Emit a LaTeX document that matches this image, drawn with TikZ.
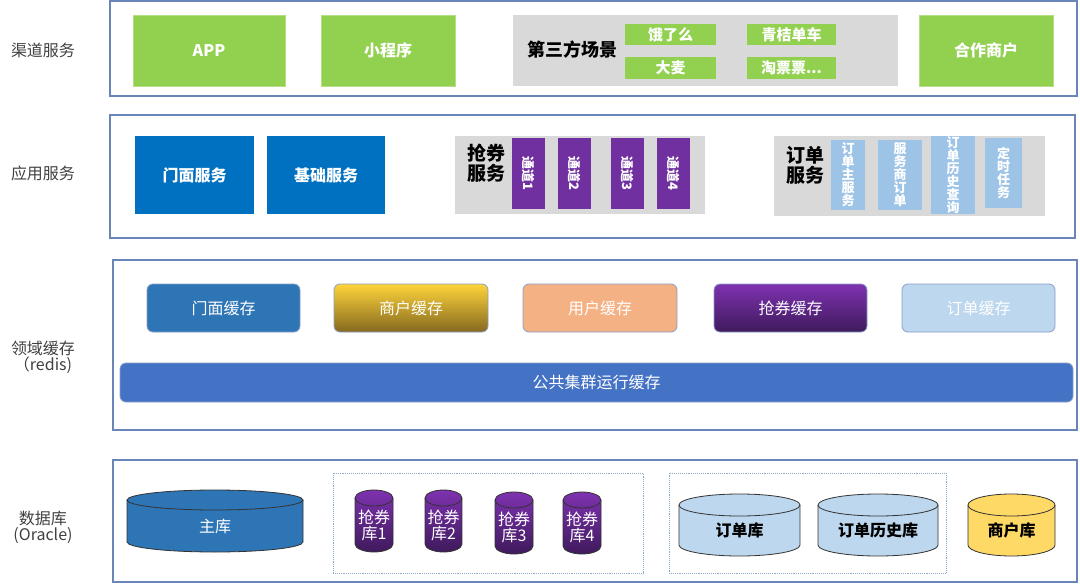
\documentclass[tikz,border=0pt]{standalone}
\usepackage{fontspec}
\setmainfont{Noto Sans CJK SC}
\usetikzlibrary{calc}
\definecolor{cgreen}{HTML}{92D050}
\definecolor{cgray}{HTML}{D9D9D9}
\definecolor{cblue}{HTML}{0070C0}
\definecolor{cpurple}{HTML}{7030A0}
\definecolor{clblue}{HTML}{9DC3E6}
\definecolor{ccache}{HTML}{2E75B6}
\definecolor{cpeach}{HTML}{F4B183}
\definecolor{corder}{HTML}{BDD7EE}
\definecolor{cpub}{HTML}{4472C4}
\definecolor{cyel}{HTML}{FFD966}
\definecolor{cframe}{HTML}{6A86B8}
\definecolor{cdot}{HTML}{8EA9C9}
\definecolor{clabel}{HTML}{404040}
\definecolor{cgold}{HTML}{FFD43B}
\definecolor{cbrown}{HTML}{85691F}
\definecolor{cpurtop}{HTML}{7E32B0}
\definecolor{cpurbot}{HTML}{3F1A5C}
\newcommand\fs[1]{\fontsize{#1}{#1}\selectfont}
% box node by corners: name, x1, y1, x2, y2, style, text
\newcommand\bx[7]{\node[#6, minimum width={(#4-#2)*1pt}, minimum height={(#5-#3)*1pt}] (#1) at ({(#2+#4)/2},{(#3+#5)/2}) {#7};}
% cylinder: name, x1, y1, x2, y2, ry, fill style, text style, text
\newcommand\cyl[9]{%
  \path[#7] (#2,#3+#6) -- (#2,#5-#6) arc[start angle=180,end angle=0,x radius={(#4-#2)/2},y radius=#6] -- (#4,#3+#6) arc[start angle=0,end angle=-180,x radius={(#4-#2)/2},y radius=#6] -- cycle;
  \draw[black!80,line width=0.8pt] (#2,#3+#6) -- (#2,#5-#6) arc[start angle=180,end angle=0,x radius={(#4-#2)/2},y radius=#6] -- (#4,#3+#6);
  \draw[black!80,line width=0.8pt] ({(#2+#4)/2},#3+#6) ellipse[x radius={(#4-#2)/2},y radius=#6];
  \node[#8] (#1) at ({(#2+#4)/2},{(#3+#5)/2+#6/2}) {#9};}
\tikzset{
  frame/.style={draw=cframe, line width=1.1pt, inner sep=0},
  gbox/.style={fill=cgreen, draw=cgreen!70!white, inner sep=0, text=white, font=\fs{16}\bfseries},
  sgbox/.style={fill=cgreen, inner sep=0, text=white, font=\fs{15}\bfseries},
  graybox/.style={fill=cgray, inner sep=0},
  bbox/.style={fill=cblue, inner sep=0, text=white, font=\fs{16}\bfseries},
  chan/.style={fill=cpurple, inner sep=0, text=white, font=\fs{13}\bfseries},
  obox/.style={fill=clblue, inner sep=0, text=white, font=\fs{13}\bfseries, align=center},
  cache/.style={rounded corners=6pt, draw=cframe!80, line width=0.8pt, inner sep=0, text=white, font=\fs{16}},
  lab/.style={text=clabel, font=\fs{16}, align=center},
  dotbox/.style={draw=cdot, densely dotted, line width=0.9pt, inner sep=0},
  dbtext/.style={text=white, font=\fs{16}, align=center},
  dbbold/.style={text=black, font=\fs{16}\bfseries, align=center},
}
\begin{document}
\begin{tikzpicture}[x=1pt,y=-1pt]
\useasboundingbox (0,0) rectangle (1080,584);
% ---------- layer 1
\node[lab] (l1) at (43,50) {渠道服务};
\bx{f1}{110}{1}{1077}{96}{frame}{}
\bx{app}{133}{15}{285}{86}{gbox}{APP}
\bx{mini}{321}{15}{455}{86}{gbox}{小程序}
\bx{third}{513}{15}{898}{86}{graybox}{}
\node[font=\fs{18}\bfseries, text=black] (thirdt) at (572,50) {第三方场景};
\bx{elm}{625}{24}{716}{45}{sgbox}{饿了么}
\bx{qj}{747}{24}{836}{45}{sgbox}{青桔单车}
\bx{dm}{625}{57}{716}{79}{sgbox}{大麦}
\bx{tpp}{747}{57}{836}{79}{sgbox}{淘票票...}
\bx{hz}{919}{15}{1053}{86}{gbox}{合作商户}
% ---------- layer 2
\node[lab] (l2) at (43,173) {应用服务};
\bx{f2}{110}{115}{1075}{238}{frame}{}
\bx{mm}{135}{136}{254}{214}{bbox}{门面服务}
\bx{jc}{267}{136}{385}{214}{bbox}{基础服务}
\bx{qq}{455}{136}{705}{214}{graybox}{}
\node[font=\fs{19}\bfseries, align=center, text=black] (qqt) at (486,163) {抢券\\[1pt]服务};
\node[chan, rotate=-90, minimum width=71pt, minimum height=33pt] (c1) at (528.5,173.5) {通道1};
\node[chan, rotate=-90, minimum width=71pt, minimum height=33pt] (c2) at (574.5,173.5) {通道2};
\node[chan, rotate=-90, minimum width=71pt, minimum height=33pt] (c3) at (627.5,173.5) {通道3};
\node[chan, rotate=-90, minimum width=71pt, minimum height=33pt] (c4) at (673.5,173.5) {通道4};
\bx{dd}{774}{136}{1045}{216}{graybox}{}
\node[font=\fs{19}\bfseries, align=center, text=black] (ddt) at (805,165) {订单\\[1pt]服务};
\bx{o1}{831}{140}{865}{210}{obox}{订\\单\\主\\服\\务}
\bx{o2}{878}{140}{922}{210}{obox}{服\\务\\商\\订\\单}
\bx{o3}{931}{140}{975}{210}{obox}{订\\单\\历\\史\\查\\询}
\bx{o4}{985}{138}{1022}{208}{obox}{定\\时\\任\\务}
% ---------- layer 3
\node[lab] (l3) at (43,357) {领域缓存\\（redis)};
\bx{f3}{113}{260}{1077}{430}{frame}{}
\bx{k1}{147}{284}{300}{332}{cache, fill=ccache}{门面缓存}
\bx{k2}{334}{284}{488}{332}{cache, top color=cgold, bottom color=cbrown}{商户缓存}
\bx{k3}{523}{284}{677}{332}{cache, fill=cpeach}{用户缓存}
\bx{k4}{714}{284}{867}{332}{cache, top color=cpurtop, bottom color=cpurbot}{抢券缓存}
\bx{k5}{902}{284}{1055}{332}{cache, fill=corder}{订单缓存}
\bx{pub}{120}{363}{1073}{402}{cache, fill=cpub}{公共集群运行缓存}
% ---------- layer 4
\node[lab] (l4) at (43,527) {数据库\\(Oracle)};
\bx{f4}{113}{460}{1077}{582}{frame}{}
\bx{dot1}{333}{473}{643}{573}{dotbox}{}
\bx{dot2}{669}{473}{946}{573}{dotbox}{}
\cyl{main}{127}{490}{303}{552}{10}{fill=ccache}{dbtext}{主库}
\cyl{q1}{355}{490}{393}{552}{8}{top color=cpurtop, bottom color=cpurbot}{dbtext}{抢券\\库1}
\cyl{q2}{425}{490}{462}{552}{8}{top color=cpurtop, bottom color=cpurbot}{dbtext}{抢券\\库2}
\cyl{q3}{495}{492}{533}{554}{8}{top color=cpurtop, bottom color=cpurbot}{dbtext}{抢券\\库3}
\cyl{q4}{563}{492}{601}{554}{8}{top color=cpurtop, bottom color=cpurbot}{dbtext}{抢券\\库4}
\cyl{ord}{679}{494}{800}{556}{11}{fill=corder}{dbbold}{订单库}
\cyl{ordh}{818}{494}{938}{556}{11}{fill=corder}{dbbold}{订单历史库}
\cyl{shop}{968}{494}{1055}{556}{11}{fill=cyel}{dbbold}{商户库}
\end{tikzpicture}
\end{document}
